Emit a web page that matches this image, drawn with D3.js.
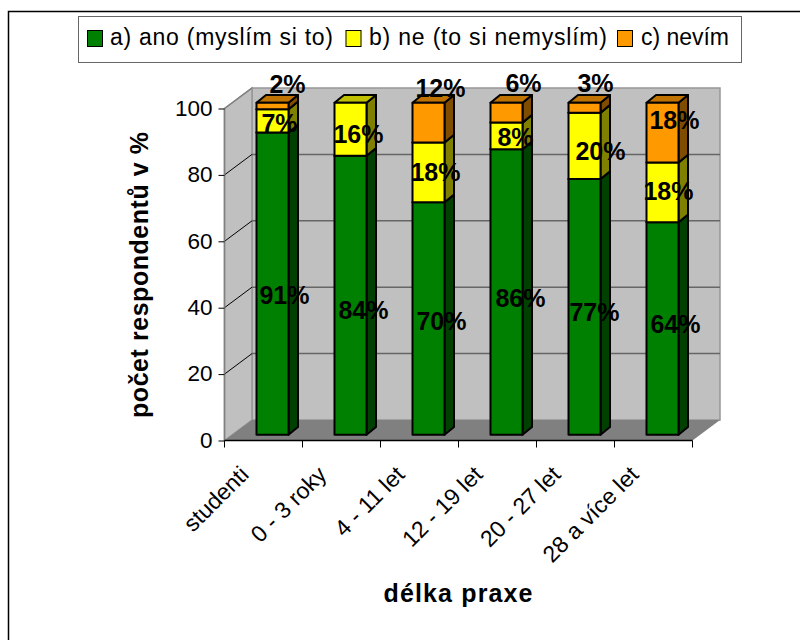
<!DOCTYPE html>
<html><head><meta charset="utf-8">
<style>html,body{margin:0;padding:0;background:#fff}svg{display:block}</style>
<script src="https://cdn.jsdelivr.net/npm/d3@7"></script>
</head><body><svg id="chart" width="800" height="640"></svg>
<script>
// Survey answers by length of practice, in percent of respondents
const categories = ["studenti", "0 - 3 roky", "4 - 11 let", "12 - 19 let", "20 - 27 let", "28 a více let"];
const seriesNames = ["a) ano (myslím si to)", "b) ne (to si nemyslím)", "c) nevím"];
const ano = [91, 84, 70, 86, 77, 64];
const ne = [7, 16, 18, 8, 20, 18];
const nevim = [2, 0, 12, 6, 3, 18];
const yTicks = [0, 20, 40, 60, 80, 100];

const faceColors = ["#008000", "#ffff00", "#ff9900"];
const sideColors = ["#004000", "#808000", "#804c00"];
const topColors = ["#006000", "#c0c000", "#c07300"];

// Hand-placed label nudges from the centre of each segment's front face
const labelNudge = [
  [[12, 11], [13, 15], [13, 2], [14, 6], [10, 5], [13, -4]],
  [[7, 2], [8, 5], [7, 0], [9, 1], [16, 5], [6, -1]],
  [[15, -22], null, [12, -35], [17, -30], [11, -25], [12, -13]]
];

const svg = d3.select("#chart");
const font = "'Liberation Sans', Arial, sans-serif";

// Front plane of the 3D box and its depth offset
const x0 = 224.5, x1 = 692.5, yBase = 440.5, yTop = 108.5;
const depthX = 27.5, depthY = -20.5;
// Bars sit part way into the box
const barInX = 9.5, barInY = -5.8, barDepthX = 9.5, barDepthY = -7.8;

const x = d3.scaleBand().domain(categories).range([x0, x1]);
const y = d3.scaleLinear().domain([0, 100]).range([yBase, yTop]);
const barW = 32;
const barLeft = c => x(c) + (x.bandwidth() - barW) / 2 + barInX - 0.5;

// Chart frame: only the top and left edges fall inside the page
svg.append("path").attr("d", "M8.5,640V11.5H800")
  .attr("fill", "none").attr("stroke", "#000").attr("stroke-width", 1.5);

// Back wall, side wall and floor
const poly = (pts, fill, stroke, sw) => svg.append("polygon")
  .attr("points", pts.map(p => p.join(",")).join(" "))
  .attr("fill", fill).attr("stroke", stroke || "none").attr("stroke-width", sw || 0);
poly([[x0 + depthX, yTop + depthY], [x1 + depthX, yTop + depthY], [x1 + depthX, yBase + depthY], [x0 + depthX, yBase + depthY]], "#c0c0c0", "#969696", 1.5);
poly([[x0, yTop], [x0 + depthX, yTop + depthY], [x0 + depthX, yBase + depthY], [x0, yBase]], "#c0c0c0", "#969696", 1.5);
poly([[x0, yBase], [x0 + depthX, yBase + depthY], [x1 + depthX, yBase + depthY], [x1, yBase]], "#808080");

// Gridlines along the side wall and back wall
yTicks.filter(t => t > 0 && t < 100).forEach(t => {
  svg.append("line").attr("x1", x0).attr("y1", y(t)).attr("x2", x0 + depthX).attr("y2", y(t) + depthY)
    .attr("stroke", "#000").attr("stroke-width", 1);
  svg.append("line").attr("x1", x0 + depthX).attr("y1", y(t) + depthY).attr("x2", x1 + depthX).attr("y2", y(t) + depthY)
    .attr("stroke", "#666").attr("stroke-width", 1.5);
});
svg.append("line").attr("x1", x0).attr("y1", y(100)).attr("x2", x0 + depthX).attr("y2", y(100) + depthY)
  .attr("stroke", "#808080").attr("stroke-width", 1.5);

// Stacked bars, each segment with front, side and top faces
const series = [ano, ne, nevim];
categories.forEach((c, i) => {
  let base = 0;
  const left = barLeft(c);
  series.forEach((vals, s) => {
    const v = vals[i];
    if (!v) return;
    const top = base + v;
    const yb = y(base) + barInY, yt = y(top) + barInY;
    const g = svg.append("g").attr("stroke", "#000").attr("stroke-width", 2).attr("stroke-linejoin", "round");
    const face = (pts, fill) => g.append("polygon").attr("points", pts.map(p => p.join(",")).join(" ")).attr("fill", fill);
    face([[left + barW, yb], [left + barW + barDepthX, yb + barDepthY], [left + barW + barDepthX, yt + barDepthY], [left + barW, yt]], sideColors[s]);
    face([[left, yt], [left + barW, yt], [left + barW + barDepthX, yt + barDepthY], [left + barDepthX, yt + barDepthY]], topColors[s]);
    face([[left, yb], [left + barW, yb], [left + barW, yt], [left, yt]], faceColors[s]);
    base = top;
  });
});

// Value axis
const yAxis = svg.append("g").attr("transform", `translate(${x0},0)`)
  .call(d3.axisLeft(y).tickValues(yTicks).tickSize(6).tickPadding(6));
yAxis.select(".domain").attr("stroke", "#808080").attr("stroke-width", 1.5).attr("d", `M0,${yBase}V${yTop}`);
yAxis.selectAll("line").attr("stroke", "#000");
yAxis.selectAll("text").attr("font-family", font).attr("font-size", 22.5).attr("fill", "#000").attr("dy", "0.3em");

// Category axis along the front edge
const xAxis = svg.append("g").attr("transform", `translate(0,${yBase})`)
  .call(d3.axisBottom(x).tickValues([]).tickSize(0));
xAxis.select(".domain").attr("stroke", "#000").attr("stroke-width", 1.5).attr("d", `M${x0},0H${x1}`);
categories.concat([null]).forEach((c, i) => {
  const px = x0 + i * x.step();
  svg.append("line").attr("x1", px).attr("x2", px).attr("y1", yBase).attr("y2", yBase + 7).attr("stroke", "#000");
});
categories.forEach(c => {
  svg.append("text")
    .attr("transform", `translate(${x(c) + x.bandwidth() / 2 - 13.5},${yBase + 35.5}) rotate(-45)`)
    .attr("text-anchor", "end")
    .attr("font-family", font).attr("font-size", 23).text(c);
});

// Value labels
series.forEach((vals, s) => {
  const cum = categories.map((c, i) => d3.sum(series.slice(0, s), a => a[i]));
  vals.forEach((v, i) => {
    if (!v) return;
    const c = categories[i];
    const n = labelNudge[s][i];
    svg.append("text")
      .attr("x", barLeft(c) + barW / 2 + n[0])
      .attr("y", y(cum[i] + v / 2) + barInY + n[1])
      .attr("dy", "0.36em").attr("text-anchor", "middle")
      .attr("font-family", font).attr("font-size", 25).attr("font-weight", "bold").attr("fill", "#000")
      .text(v + "%");
  });
});

// Axis titles
svg.append("text").attr("transform", "translate(148,275) rotate(-90)").attr("text-anchor", "middle")
  .attr("font-family", font).attr("font-size", 25).attr("font-weight", "bold")
  .attr("textLength", 286).attr("lengthAdjust", "spacing").text("počet respondentů v %");
svg.append("text").attr("x", 458).attr("y", 602).attr("text-anchor", "middle")
  .attr("font-family", font).attr("font-size", 25).attr("font-weight", "bold")
  .attr("textLength", 149).attr("lengthAdjust", "spacing").text("délka praxe");

// Legend
svg.append("rect").attr("x", 78.5).attr("y", 16.5).attr("width", 663).attr("height", 46)
  .attr("fill", "#fff").attr("stroke", "#666").attr("stroke-width", 1);
const legendSwatchX = [87.5, 346, 617.5];
const legendTextX = [110, 369, 641];
const legendTextLen = [223, 238, 88];
seriesNames.forEach((name, s) => {
  svg.append("rect").attr("x", legendSwatchX[s]).attr("y", 30.5).attr("width", 15).attr("height", 16)
    .attr("fill", faceColors[s]).attr("stroke", "#000").attr("stroke-width", 1);
  svg.append("text").attr("x", legendTextX[s]).attr("y", 45)
    .attr("font-family", font).attr("font-size", 23)
    .attr("textLength", legendTextLen[s]).attr("lengthAdjust", "spacing").text(name);
});
</script></body></html>
